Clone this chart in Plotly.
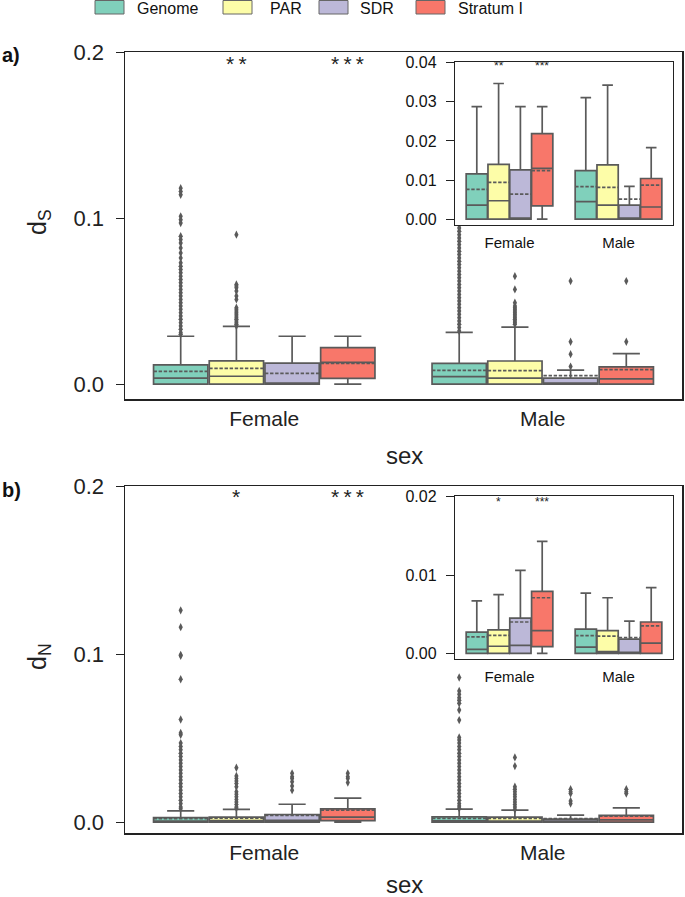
import plotly.graph_objects as go

W, H = 685, 897
FONT = "Liberation Sans, Arial, sans-serif"

groups = ["Genome", "PAR", "SDR", "Stratum I"]
sexes = ["Female", "Male"]
colors = ["#80d0bb", "#fdfda8", "#bcb8d8", "#f8776a"]
offsets = [-0.3, -0.1, 0.1, 0.3]

# ---- panel a : dS  (per group: [Female, Male]) ----
ds_q1 = {"Genome": [0.0, 0.0], "PAR": [0.0, 0.0], "SDR": [0.0, 0.0], "Stratum I": [0.0034, 0.0]}
ds_med = {"Genome": [0.0036, 0.0045], "PAR": [0.0047, 0.0036], "SDR": [0.0, 0.0], "Stratum I": [0.0130, 0.0031]}
ds_q3 = {"Genome": [0.0116, 0.0124], "PAR": [0.0140, 0.0139], "SDR": [0.0126, 0.0036], "Stratum I": [0.0219, 0.0104]}
ds_lo = {"Genome": [0.0, 0.0], "PAR": [0.0, 0.0], "SDR": [0.0, 0.0], "Stratum I": [0.0, 0.0]}
ds_hi = {"Genome": [0.0288, 0.0311], "PAR": [0.0347, 0.0343], "SDR": [0.0288, 0.0084], "Stratum I": [0.0288, 0.0183]}
ds_mean = {"Genome": [0.0076, 0.0083], "PAR": [0.0094, 0.0081], "SDR": [0.0064, 0.0051], "Stratum I": [0.0124, 0.0087]}

ds_out_female = {
    "Genome": [0.118, 0.116, 0.114, 0.101, 0.099, 0.097, 0.089, 0.087, 0.085, 0.082, 0.079, 0.076,
               0.073, 0.071, 0.069, 0.067, 0.065, 0.063, 0.061, 0.059, 0.057, 0.055, 0.053, 0.051,
               0.049, 0.047, 0.045, 0.043, 0.041, 0.039, 0.037, 0.035, 0.033, 0.031, 0.030],
    "PAR": [0.090, 0.060, 0.059, 0.058, 0.056, 0.053, 0.051, 0.046, 0.045, 0.044, 0.043, 0.042,
            0.041, 0.040, 0.039, 0.038, 0.037, 0.036, 0.035],
    "SDR": [],
    "Stratum I": [],
}
ds_out_male = {
    "Genome": [0.112, 0.105, 0.098, 0.096, 0.094, 0.092, 0.090, 0.088, 0.086, 0.084, 0.082, 0.080,
               0.078, 0.076, 0.074, 0.072, 0.070, 0.068, 0.066, 0.064, 0.062, 0.060, 0.058, 0.056,
               0.054, 0.052, 0.050, 0.048, 0.046, 0.044, 0.042, 0.040, 0.038, 0.036, 0.034, 0.032],
    "PAR": [0.065, 0.057, 0.049, 0.047, 0.046, 0.045, 0.044, 0.043, 0.042, 0.041, 0.040, 0.039,
            0.038, 0.037, 0.036],
    "SDR": [0.062, 0.0255, 0.018, 0.0105],
    "Stratum I": [0.062, 0.0255],
}

# ---- panel b : dN ----
dn_q1 = {"Genome": [0.0, 0.0], "PAR": [0.0, 0.0], "SDR": [0.0, 0.0], "Stratum I": [0.00085, 0.0]}
dn_med = {"Genome": [0.0005, 0.0008], "PAR": [0.0009, 0.0002], "SDR": [0.0010, 0.0], "Stratum I": [0.0029, 0.0013]}
dn_q3 = {"Genome": [0.0027, 0.0031], "PAR": [0.0030, 0.0029], "SDR": [0.0045, 0.0018], "Stratum I": [0.0079, 0.0040]}
dn_lo = {"Genome": [0.0, 0.0], "PAR": [0.0, 0.0], "SDR": [0.0, 0.0], "Stratum I": [0.0, 0.0]}
dn_hi = {"Genome": [0.0067, 0.0077], "PAR": [0.0075, 0.0071], "SDR": [0.0106, 0.0041], "Stratum I": [0.0143, 0.0084]}
dn_mean = {"Genome": [0.0021, 0.00225], "PAR": [0.0023, 0.0022], "SDR": [0.0040, 0.0020], "Stratum I": [0.0071, 0.0035]}

dn_out_female = {
    "Genome": [0.126, 0.116, 0.0995, 0.099, 0.085, 0.061, 0.053, 0.052, 0.047, 0.045, 0.043, 0.041,
               0.039, 0.037, 0.035, 0.033, 0.031, 0.029, 0.027, 0.025, 0.023, 0.021, 0.019, 0.017,
               0.015, 0.013, 0.011, 0.009, 0.008],
    "PAR": [0.0323, 0.0274, 0.026, 0.0245, 0.023, 0.021, 0.018, 0.0165, 0.015, 0.0135, 0.012,
            0.0105, 0.009, 0.0083],
    "SDR": [0.029, 0.027, 0.026, 0.024, 0.0215, 0.019],
    "Stratum I": [0.029, 0.027, 0.026, 0.0235],
}
dn_out_male = {
    "Genome": [0.086, 0.078, 0.076, 0.074, 0.0725, 0.0707, 0.0667, 0.0607, 0.0504, 0.0488, 0.047,
               0.045, 0.043, 0.041, 0.039, 0.037, 0.035, 0.033, 0.031, 0.029, 0.027, 0.025, 0.023,
               0.021, 0.019, 0.017, 0.015, 0.013, 0.011, 0.0095, 0.0082],
    "PAR": [0.0385, 0.0333, 0.021, 0.0195, 0.018, 0.0165, 0.015, 0.0135, 0.012, 0.0105, 0.009, 0.0075],
    "SDR": [0.0195, 0.018, 0.017, 0.0125, 0.011],
    "Stratum I": [0.0195, 0.018, 0.017],
}

fig = go.Figure()

LINE = "#5a5a5a"
BOXW = 0.195


def add_boxes(xa, ya, q1, med, q3, lo, hi, mean, out_f=None, out_m=None):
    for i, g in enumerate(groups):
        xs = [k + offsets[i] for k in range(len(sexes))]
        fig.add_trace(go.Box(
            x=xs, q1=q1[g], median=med[g], q3=q3[g], lowerfence=lo[g], upperfence=hi[g],
            mean=mean[g], boxmean=True, width=BOXW, whiskerwidth=0.5,
            fillcolor=colors[i], line=dict(color=LINE, width=1.7),
            xaxis=xa, yaxis=ya, showlegend=False, hoverinfo="skip", name=g))
        if out_f is not None:
            for k, od in enumerate([out_f, out_m]):
                vals = od[g]
                if vals:
                    fig.add_trace(go.Scatter(
                        x=[k + offsets[i]] * len(vals), y=vals, mode="markers",
                        marker=dict(symbol="diamond-tall", size=6, color=LINE),
                        xaxis=xa, yaxis=ya, showlegend=False, hoverinfo="skip"))


add_boxes("x", "y", ds_q1, ds_med, ds_q3, ds_lo, ds_hi, ds_mean, ds_out_female, ds_out_male)
add_boxes("x2", "y2", ds_q1, ds_med, ds_q3, ds_lo, ds_hi, ds_mean)
add_boxes("x3", "y3", dn_q1, dn_med, dn_q3, dn_lo, dn_hi, dn_mean, dn_out_female, dn_out_male)
add_boxes("x4", "y4", dn_q1, dn_med, dn_q3, dn_lo, dn_hi, dn_mean)


def px(x):
    return x / W


def py(y):
    return 1 - y / H


main_x = [px(125), px(682)]
ins_x = [px(455), px(673)]

axcommon = dict(showline=True, mirror=True, linecolor="#222", linewidth=1.5, showgrid=False,
                zeroline=False, automargin=False)
inscommon = dict(showline=True, mirror=True, linecolor="#222", linewidth=1.2, showgrid=False,
                 zeroline=False, automargin=False)

xmain = dict(domain=main_x, range=[-0.5, 1.5], tickvals=[0, 1], ticktext=sexes, ticks="",
             tickfont=dict(family=FONT, size=21, color="#222"), **axcommon)
xins = dict(domain=ins_x, range=[-0.5, 1.5], tickvals=[0, 1], ticktext=sexes, ticks="",
            ticklabelstandoff=4,
            tickfont=dict(family=FONT, size=15, color="#111"), **inscommon)

fig.update_layout(
    width=W, height=H, margin=dict(l=0, r=0, t=0, b=0, pad=0), autosize=False,
    paper_bgcolor="white", plot_bgcolor="white", showlegend=False,
    xaxis=dict(anchor="y", **xmain),
    yaxis=dict(anchor="x", domain=[py(399), py(52)], range=[-0.009, 0.2], tickvals=[0, 0.1, 0.2],
               tickformat=".1f", ticks="outside", ticklen=8, tickcolor="#222", ticklabelstandoff=7,
               tickfont=dict(family=FONT, size=22, color="#222"), **axcommon),
    xaxis2=dict(anchor="y2", **xins),
    yaxis2=dict(anchor="x2", domain=[py(225), py(62)], range=[-0.0015, 0.0402],
                tickvals=[0, 0.01, 0.02, 0.03, 0.04], tickformat=".2f", ticks="outside", ticklen=8,
                ticklabelstandoff=6,
                tickcolor="#222", tickfont=dict(family=FONT, size=16, color="#111"), **inscommon),
    xaxis3=dict(anchor="y3", **xmain),
    yaxis3=dict(anchor="x3", domain=[py(833), py(486)], range=[-0.0065, 0.2], tickvals=[0, 0.1, 0.2],
                tickformat=".1f", ticks="outside", ticklen=8, tickcolor="#222", ticklabelstandoff=7,
                tickfont=dict(family=FONT, size=22, color="#222"), **axcommon),
    xaxis4=dict(anchor="y4", **xins),
    yaxis4=dict(anchor="x4", domain=[py(659), py(496)], range=[-0.00073, 0.0201],
                tickvals=[0, 0.01, 0.02], tickformat=".2f", ticks="outside", ticklen=8,
                ticklabelstandoff=6,
                tickcolor="#222", tickfont=dict(family=FONT, size=16, color="#111"), **inscommon),
)

shapes = []
# white backgrounds for insets (cover main-panel outliers)
for xr, yr in [("x2", "y2"), ("x4", "y4")]:
    shapes.append(dict(type="rect", xref=xr + " domain", yref=yr + " domain", x0=0, x1=1, y0=0, y1=1,
                       fillcolor="white", line=dict(width=0), layer="below"))

# legend (manual)
leg_items = [(95, 135), (223, 268), (319, 358), (416, 456)]
annotations = []
for i, (xp, xt) in enumerate(leg_items):
    shapes.append(dict(type="rect", xref="paper", yref="paper", x0=px(xp), x1=px(xp + 29),
                       y0=py(14), y1=py(0.5), fillcolor=colors[i], line=dict(color="#666", width=1)))
    annotations.append(dict(text=groups[i], xref="paper", yref="paper", x=px(xt), y=py(9),
                            xanchor="left", yanchor="middle", showarrow=False,
                            font=dict(family=FONT, size=16, color="#111")))

# panel letters and axis titles
for lab, yy in [("a)", 55), ("b)", 490)]:
    annotations.append(dict(text="<b>" + lab + "</b>", xref="paper", yref="paper", x=0, y=py(yy),
                            xanchor="left", yanchor="middle", showarrow=False,
                            font=dict(family=FONT, size=20, color="#111")))
for yy in [455, 884]:
    annotations.append(dict(text="sex", xref="paper", yref="paper", x=px(404), y=py(yy),
                            xanchor="center", yanchor="middle", showarrow=False,
                            font=dict(family=FONT, size=24, color="#222")))
for sub, yy in [("S", 222), ("N", 657)]:
    annotations.append(dict(text="d<sub>" + sub + "</sub>", xref="paper", yref="paper", x=px(39), y=py(yy),
                            xanchor="center", yanchor="middle", showarrow=False, textangle=-90,
                            font=dict(family=FONT, size=25, color="#222")))

# significance stars
TS = "\u2009"
stars = [("x", "y", TS.join("**"), TS.join("***"), 0.193, 21),
         ("x3", "y3", "*", TS.join("***"), 0.194, 21),
         ("x2", "y2", "**", "***", 0.0392, 12), ("x4", "y4", "*", "***", 0.0193, 12)]
for xr, yr, s1, s2, yv, fs in stars:
    for xv, s in [(0 + offsets[1], s1), (0 + offsets[3], s2)]:
        annotations.append(dict(text=s, xref=xr, yref=yr, x=xv, y=yv, xanchor="center",
                                yanchor="middle", showarrow=False,
                                font=dict(family=FONT, size=fs, color="#222")))

fig.update_layout(shapes=shapes, annotations=annotations)
fig.write_html(
    "out.html",
    config={"displayModeBar": False, "staticPlot": True},
    post_script="document.body.style.margin='0px';document.body.style.padding='0px';"
                "document.documentElement.style.overflow='hidden';",
)
